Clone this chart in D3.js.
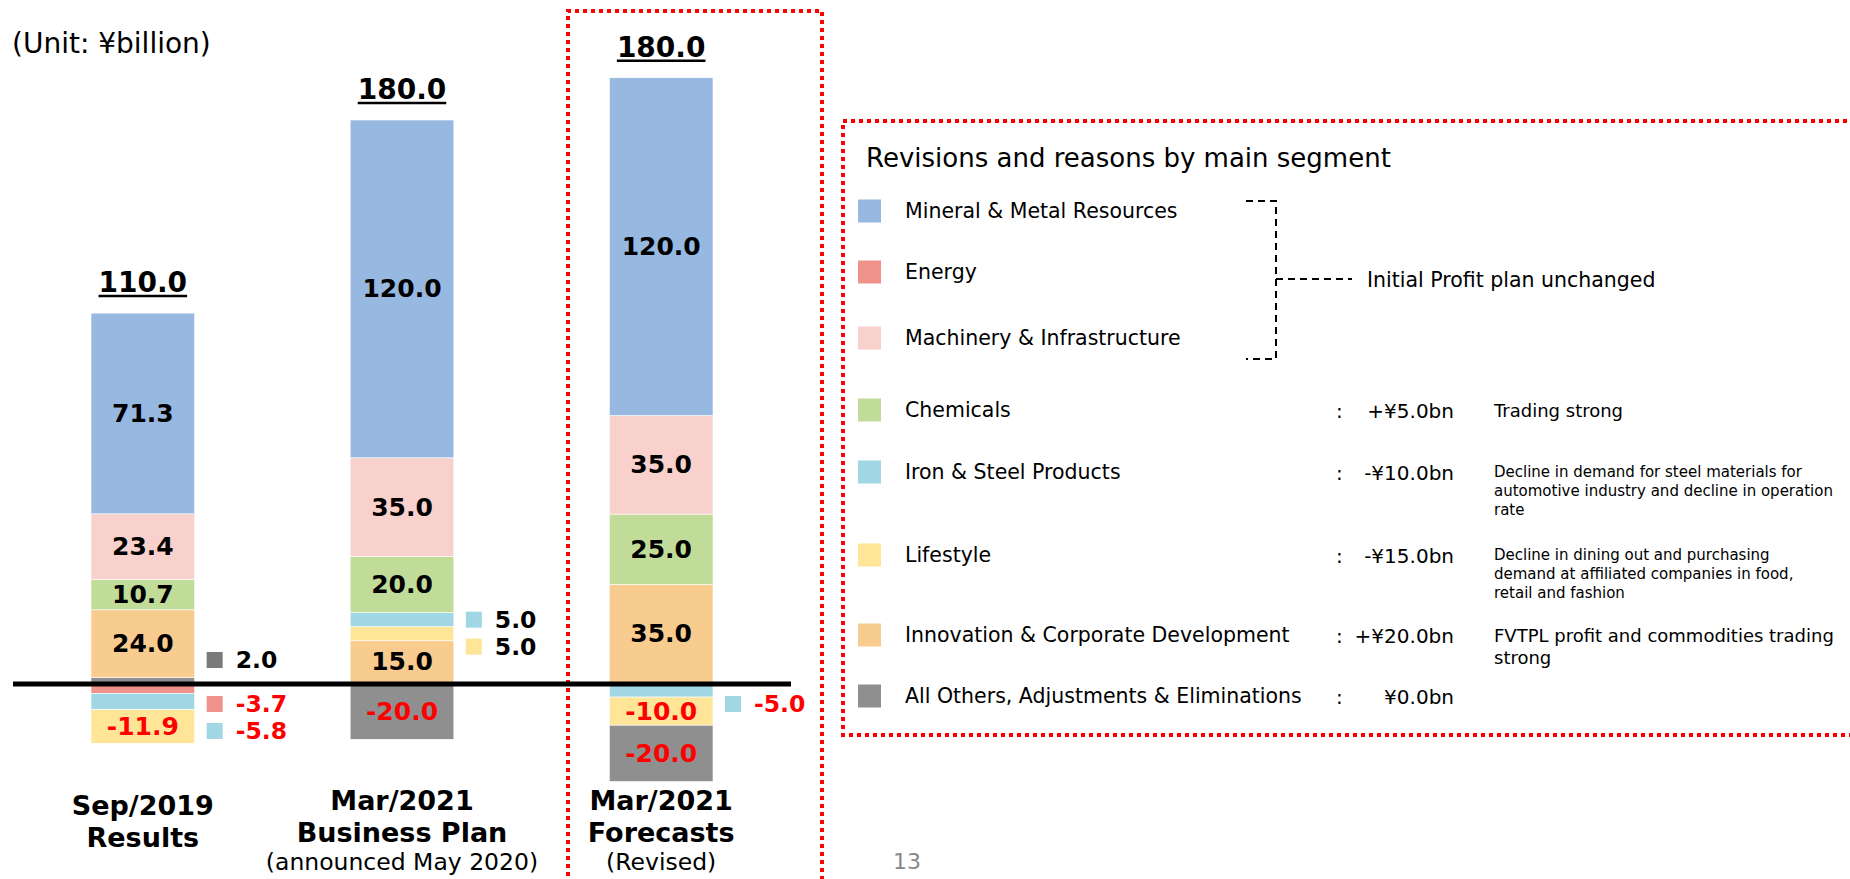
<!DOCTYPE html>
<html>
<head>
<meta charset="utf-8">
<script src="https://cdn.jsdelivr.net/npm/d3@7"></script>
<style>
  body { margin: 0; background: #fff; }
  text { font-family: "DejaVu Sans", Verdana, sans-serif; }
</style>
</head>
<body>
<div id="viz1"></div>
<script>
// categories (one per bar) and their label lines
const categories = ["Sep/2019 Results", "Mar/2021 Business Plan", "Mar/2021 Forecasts"];
const catLines = [["Sep/2019", "Results"], ["Mar/2021", "Business Plan", "(announced May 2020)"], ["Mar/2021", "Forecasts", "(Revised)"]];
const totals = [110.0, 180.0, 180.0];

// segments
const segments = ["Mineral & Metal Resources", "Energy", "Machinery & Infrastructure", "Chemicals",
  "Iron & Steel Products", "Lifestyle", "Innovation & Corporate Development", "All Others, Adjustments & Eliminations"];
const segColors = ["#96b8e1", "#f0928c", "#f8d1cd", "#c1dc98", "#a1d7e5", "#ffe597", "#f8cb8f", "#8f8f8f"];

// values per segment, one per category
const mineral    = [71.3, 120.0, 120.0];
const energy     = [-3.7, 0, 0];
const machinery  = [23.4, 35.0, 35.0];
const chemicals  = [10.7, 20.0, 25.0];
const ironSteel  = [-5.8, 5.0, -5.0];
const lifestyle  = [-11.9, 5.0, -10.0];
const innovation = [24.0, 15.0, 35.0];
const others     = [2.0, -20.0, -20.0];
const seriesValues = [mineral, energy, machinery, chemicals, ironSteel, lifestyle, innovation, others];

// revisions legend
const revisionValues = ["", "", "", "+¥5.0bn", "-¥10.0bn", "-¥15.0bn", "+¥20.0bn", "¥0.0bn"];
const reasons = [[], [], [], ["Trading strong"],
  ["Decline in demand for steel materials for", "automotive industry and decline in operation", "rate"],
  ["Decline in dining out and purchasing", "demand at affiliated companies in food,", "retail and fashion"],
  ["FVTPL profit and commodities trading", "strong"], []];

const W = 1850, H = 879;
const ZeroY = 683;
const PxPerUnit = 2.815;

const svg = d3.select("#viz1").append("svg").attr("width", W).attr("height", H);

const y = d3.scaleLinear().domain([0, 215]).range([ZeroY, ZeroY - 215 * PxPerUnit]);
const x = d3.scaleBand().domain(categories).range([91, 713]).paddingInner(0.6).paddingOuter(0);

// stacking order: positives from zero upward, negatives from zero downward
const posOrder = [7, 6, 5, 4, 3, 2, 0];
const negOrder = [1, 4, 5, 7];

let segs = [];
categories.forEach((c, ci) => {
  let up = 0, down = 0;
  posOrder.forEach(si => {
    const v = seriesValues[si][ci];
    if (v > 0) { segs.push({ c, ci, si, v, y0: up, y1: up + v }); up += v; }
  });
  negOrder.forEach(si => {
    const v = seriesValues[si][ci];
    if (v < 0) { segs.push({ c, ci, si, v, y0: down + v, y1: down }); down += v; }
  });
});

// red dotted frames
svg.append("path")
  .attr("d", `M568,${H + 5}L568,11L822,11L822,${H + 5}`)
  .attr("fill", "none").attr("stroke", "#ff0000").attr("stroke-width", 4).attr("stroke-dasharray", "4,4");
svg.append("path")
  .attr("d", `M${W + 5},121L843,121L843,735L${W + 5},735`)
  .attr("fill", "none").attr("stroke", "#ff0000").attr("stroke-width", 4).attr("stroke-dasharray", "4,4");

// bars
const g = svg.append("g");
g.selectAll("rect.seg")
  .data(segs)
  .enter()
  .append("rect")
  .attr("class", "seg")
  .attr("x", d => x(d.c))
  .attr("width", x.bandwidth())
  .attr("y", d => y(d.y1))
  .attr("height", d => y(d.y0) - y(d.y1))
  .attr("fill", d => segColors[d.si])
  .attr("stroke", "#fff").attr("stroke-width", 0.6);

// inside labels
g.selectAll("text.inlab")
  .data(segs.filter(d => Math.abs(d.v) >= 10))
  .enter()
  .append("text")
  .attr("class", "inlab")
  .attr("x", d => x(d.c) + x.bandwidth() / 2)
  .attr("y", d => (y(d.y0) + y(d.y1)) / 2)
  .attr("text-anchor", "middle")
  .attr("dominant-baseline", "central")
  .attr("font-size", 25).attr("font-weight", "bold")
  .attr("fill", d => d.v < 0 ? "#ff0000" : "#000")
  .text(d => d.v.toFixed(1));

// side labels for small segments
let side = [];
categories.forEach((c, ci) => {
  const small = segs.filter(d => d.ci === ci && Math.abs(d.v) < 10);
  const pos = small.filter(d => d.v > 0).sort((a, b) => b.y1 - a.y1);
  let prev = -Infinity;
  pos.forEach(d => {
    let ly = Math.min((y(d.y0) + y(d.y1)) / 2, ZeroY - 23);
    ly = Math.max(ly, prev + 27);
    prev = ly;
    side.push(Object.assign({ ly }, d));
  });
  const neg = small.filter(d => d.v < 0).sort((a, b) => b.y1 - a.y1);
  prev = -Infinity;
  neg.forEach(d => {
    let ly = Math.max((y(d.y0) + y(d.y1)) / 2, ZeroY + 21);
    ly = Math.max(ly, prev + 27);
    prev = ly;
    side.push(Object.assign({ ly }, d));
  });
});

const sideG = g.selectAll("g.side").data(side).enter().append("g").attr("class", "side");
sideG.append("rect")
  .attr("x", d => x(d.c) + x.bandwidth() + 12)
  .attr("y", d => d.ly - 8)
  .attr("width", 16).attr("height", 16)
  .attr("fill", d => d.si === 7 ? "#7a7a7a" : segColors[d.si]);
sideG.append("text")
  .attr("x", d => x(d.c) + x.bandwidth() + 41)
  .attr("y", d => d.ly)
  .attr("dominant-baseline", "central")
  .attr("font-size", 23.5).attr("font-weight", "bold")
  .attr("fill", d => d.v < 0 ? "#ff0000" : "#000")
  .text(d => d.v.toFixed(1));

// zero line
svg.append("line")
  .attr("x1", 13).attr("x2", 791)
  .attr("y1", ZeroY + 1).attr("y2", ZeroY + 1)
  .attr("stroke", "#000").attr("stroke-width", 5);

// totals, underlined
const topOf = categories.map((c, ci) => d3.max(segs.filter(d => d.ci === ci), d => d.y1));
const tot = svg.append("g").selectAll("g").data(categories).enter().append("g");
tot.append("text")
  .attr("x", d => x(d) + x.bandwidth() / 2)
  .attr("y", (d, i) => y(topOf[i]) - 21)
  .attr("text-anchor", "middle")
  .attr("font-size", 28).attr("font-weight", "bold")
  .text((d, i) => totals[i].toFixed(1))
  .each(function (d, i) {
    const w = this.getComputedTextLength();
    d3.select(this.parentNode).append("line")
      .attr("x1", x(d) + x.bandwidth() / 2 - w / 2)
      .attr("x2", x(d) + x.bandwidth() / 2 + w / 2)
      .attr("y1", y(topOf[i]) - 17).attr("y2", y(topOf[i]) - 17)
      .attr("stroke", "#000").attr("stroke-width", 2.5);
  });

// category labels
const catG = svg.append("g").selectAll("g").data(categories).enter().append("g");
catG.each(function (c, ci) {
  const lines = catLines[ci];
  const startY = lines.length === 2 ? 805 : 800;
  lines.forEach((t, li) => {
    const sub = t.startsWith("(");
    d3.select(this).append("text")
      .attr("x", x(c) + x.bandwidth() / 2)
      .attr("y", sub ? startY + li * 32 - 2 : startY + li * 32)
      .attr("text-anchor", "middle")
      .attr("dominant-baseline", "central")
      .attr("font-size", sub ? 23.5 : 27)
      .attr("font-weight", sub ? "normal" : "bold")
      .text(t);
  });
});

// unit and page number
svg.append("text").attr("x", 12).attr("y", 43).attr("dominant-baseline", "central")
  .attr("font-size", 28).text("(Unit: ¥billion)");
svg.append("text").attr("x", 893).attr("y", 861).attr("dominant-baseline", "central")
  .attr("font-size", 22).attr("fill", "#888").text("13");

// revisions legend
const leg = svg.append("g");
leg.append("text").attr("x", 866).attr("y", 158).attr("dominant-baseline", "central")
  .attr("font-size", 26).text("Revisions and reasons by main segment");

const rowY = [211, 272, 338, 410, 472, 555, 635, 696];
const rows = leg.selectAll("g.row").data(segments).enter().append("g").attr("class", "row")
  .attr("transform", (d, i) => `translate(0,${rowY[i]})`);
rows.append("rect").attr("x", 858).attr("y", -11.5).attr("width", 23).attr("height", 23)
  .attr("fill", (d, i) => segColors[i]);
rows.append("text").attr("x", 905).attr("y", 0).attr("dominant-baseline", "central")
  .attr("font-size", 20.5).text(d => d);
rows.filter((d, i) => revisionValues[i] !== "").append("text")
  .attr("x", (d, i) => i === 6 ? 1323 : 1336).attr("y", 1)
  .attr("dominant-baseline", "central").attr("font-size", 20).text(":");
rows.append("text").attr("x", 1454).attr("y", 1).attr("text-anchor", "end")
  .attr("dominant-baseline", "central").attr("font-size", 20)
  .text((d, i) => revisionValues[i]);
rows.each(function (d, i) {
  const lines = reasons[i];
  const big = lines.length < 3;
  lines.forEach((t, li) => {
    d3.select(this).append("text")
      .attr("x", 1494).attr("y", big ? li * 22 : li * 19)
      .attr("dominant-baseline", "central")
      .attr("font-size", big ? 18 : 15)
      .text(t);
  });
});

// bracket for unchanged segments
leg.append("path")
  .attr("d", `M1246,${rowY[0] - 10}H1276V${rowY[2] + 21}H1246M1276,279H1352`)
  .attr("fill", "none").attr("stroke", "#000").attr("stroke-width", 2).attr("stroke-dasharray", "7,5");
leg.append("text").attr("x", 1367).attr("y", 280).attr("dominant-baseline", "central")
  .attr("font-size", 20.5).text("Initial Profit plan unchanged");
</script>
</body>
</html>
